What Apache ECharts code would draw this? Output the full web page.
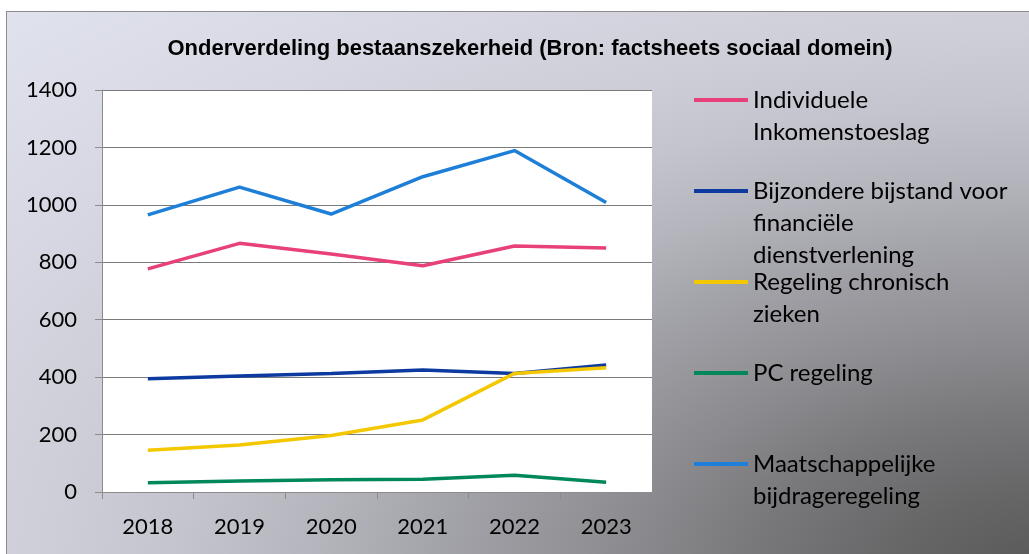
<!DOCTYPE html>
<html>
<head>
<meta charset="utf-8">
<script src="https://cdn.jsdelivr.net/npm/echarts@6/dist/echarts.min.js"></script>
<style>
  html, body { margin: 0; padding: 0; background: #fff; overflow: hidden; }
  #main {
    position: absolute; left: 6px; top: 11px;
    width: 1040px; height: 560px;
    border: 1px solid #8c8c8c;
    background: radial-gradient(ellipse farthest-corner at 100% 100%,
      #585858 0%, #666667 10%, #78787b 20%, #8a8a8e 28%, #939398 33%, #a4a4ab 42%,
      #b5b5bd 50%, #c4c4ce 59%, #ceced8 68%, #d6d7e2 80%, #e0e2ee 100%);
  }
</style>
</head>
<body>
<div id="main"></div>
<script>
// jaren op de x-as
var years = ['2018', '2019', '2020', '2021', '2022', '2023'];

// reeksen
var individuele = [777, 866, 829, 788, 857, 850];
var bijzondere = [394, 404, 413, 425, 413, 442];
var chronisch = [145, 164, 197, 251, 413, 433];
var pcRegeling = [32, 38, 43, 44, 58, 34];
var maatschappelijk = [965, 1062, 968, 1098, 1189, 1008];

var seriesNames = [
    'Individuele Inkomenstoeslag',
    'Bijzondere bijstand voor financiële dienstverlening',
    'Regeling chronisch zieken',
    'PC regeling',
    'Maatschappelijke bijdrageregeling'
];
// legenda-tekst zoals afgebroken in het origineel
var legendLabels = [
    'Individuele\nInkomenstoeslag',
    'Bijzondere bijstand voor\nfinanciële\ndienstverlening',
    'Regeling chronisch\nzieken',
    'PC regeling',
    'Maatschappelijke\nbijdrageregeling'
];
var seriesData = [individuele, bijzondere, chronisch, pcRegeling, maatschappelijk];
var colors = ['#e8407a', '#0c3a9e', '#f4c800', '#00885a', '#1e7fd8'];

var labelFont = 'Lato';
var lineH = 32;
// y-positie van de lijnsymbolen in de legenda
var legendLineY = [88, 179, 270, 361, 452];

myChart = echarts.init(document.getElementById('main'));

var legends = [];
var series = [];
for (var i = 0; i < seriesNames.length; i++) {
    var n = legendLabels[i].split('\n').length;
    // lege regels ervoor zodat het lijntje bij de eerste regel staat
    var pre = new Array(n).join('\n');
    legends.push({
        id: 'lg' + i,
        data: [seriesNames[i]],
        left: 687,
        top: legendLineY[i] - (2 * n - 1) * lineH / 2,
        padding: 0,
        itemWidth: 54,
        itemHeight: 4,
        icon: 'rect',
        formatter: (function (txt) {
            return function () { return txt; };
        })(pre + legendLabels[i]),
        textStyle: {
            fontFamily: labelFont,
            fontSize: 24,
            color: '#000',
            lineHeight: lineH
        }
    });
    series.push({
        name: seriesNames[i],
        type: 'line',
        data: seriesData[i],
        symbol: 'none',
        color: colors[i],
        lineStyle: { width: 3.5, color: colors[i] },
        emphasis: { disabled: true }
    });
}

var option = {
    animation: false,
    title: {
        text: 'Onderverdeling bestaanszekerheid (Bron: factsheets sociaal domein)',
        left: 518,
        top: 21,
        textAlign: 'center',
        textStyle: {
            fontFamily: 'Liberation Sans',
            fontWeight: 'bold',
            fontSize: 22,
            color: '#000'
        }
    },
    legend: legends,
    grid: {
        left: 95,
        top: 78,
        width: 550,
        height: 402,
        show: true,
        backgroundColor: '#ffffff',
        borderWidth: 0
    },
    xAxis: {
        type: 'category',
        data: years,
        boundaryGap: true,
        axisLine: { lineStyle: { color: '#8c8c8c', width: 1 } },
        axisTick: { show: true, length: 7, lineStyle: { color: '#8c8c8c' } },
        axisLabel: { fontFamily: labelFont, fontSize: 22, color: '#000', margin: 24 }
    },
    yAxis: {
        type: 'value',
        min: 0,
        max: 1400,
        interval: 200,
        axisLine: { show: true, lineStyle: { color: '#8c8c8c', width: 1 } },
        axisTick: { show: true, length: 7, lineStyle: { color: '#8c8c8c' } },
        axisLabel: {
            fontFamily: labelFont, fontSize: 22, color: '#000', margin: 25,
            formatter: function (v) { return String(v); }
        },
        splitLine: { lineStyle: { color: '#7a7a7a', width: 1 } }
    },
    series: series
};

myChart.setOption(option);
</script>
</body>
</html>
